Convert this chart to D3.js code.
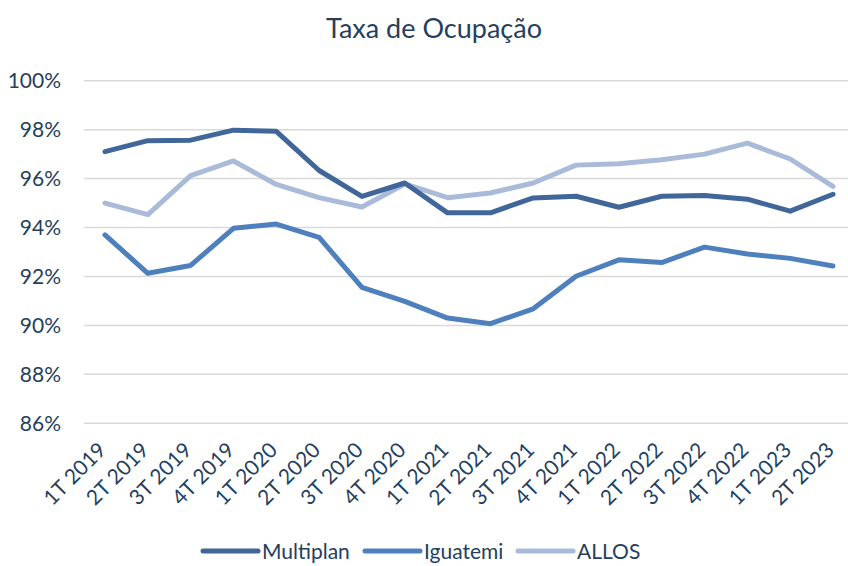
<!DOCTYPE html>
<html>
<head>
<meta charset="utf-8">
<script src="https://cdn.jsdelivr.net/npm/d3@7"></script>
<style>
  body { margin: 0; background: #fff; }
  text { font-family: Lato, "Open Sans", sans-serif; fill: #243f60; }
</style>
</head>
<body>
<div id="chart"></div>
<script>
// quarters on the x axis
var categories = ["1T 2019", "2T 2019", "3T 2019", "4T 2019", "1T 2020", "2T 2020", "3T 2020", "4T 2020",
                  "1T 2021", "2T 2021", "3T 2021", "4T 2021", "1T 2022", "2T 2022", "3T 2022", "4T 2022",
                  "1T 2023", "2T 2023"];

var multiplan = [97.1, 97.55, 97.57, 97.98, 97.93, 96.33, 95.27, 95.82, 94.6, 94.6, 95.21, 95.28, 94.83, 95.28, 95.31, 95.16, 94.67, 95.36];
var iguatemi  = [93.7, 92.13, 92.45, 93.97, 94.14, 93.6, 91.55, 90.98, 90.3, 90.07, 90.68, 92.01, 92.68, 92.57, 93.2, 92.92, 92.74, 92.43];
var allos     = [95.0, 94.53, 96.12, 96.72, 95.76, 95.22, 94.84, 95.78, 95.22, 95.41, 95.82, 96.55, 96.61, 96.77, 97.0, 97.45, 96.8, 95.68];

var yTicks = [86, 88, 90, 92, 94, 96, 98, 100];

var series = [
  { name: "Multiplan", values: multiplan, color: "#41679a" },
  { name: "Iguatemi",  values: iguatemi,  color: "#4e80bd" },
  { name: "ALLOS",     values: allos,     color: "#aabbd9" }
];

var width = 848, height = 566;

var svg = d3.select("#chart").append("svg")
    .attr("width", width)
    .attr("height", height);

var x = d3.scalePoint()
    .domain(categories)
    .range([105, 833]);

var y = d3.scaleLinear()
    .domain([86, 100])
    .range([423.3, 80.7]);

// title
svg.append("text")
    .attr("x", 434)
    .attr("y", 38)
    .attr("text-anchor", "middle")
    .style("font-size", "27px")
    .text("Taxa de Ocupação");

// gridlines
svg.append("g")
    .selectAll("line")
    .data(yTicks)
    .enter().append("line")
    .attr("x1", 84)
    .attr("x2", 848)
    .attr("y1", function(d) { return y(d); })
    .attr("y2", function(d) { return y(d); })
    .style("stroke", "#d9d9d9")
    .style("stroke-width", 1.5);

// y labels
svg.append("g")
    .selectAll("text")
    .data(yTicks)
    .enter().append("text")
    .attr("x", 61)
    .attr("y", function(d) { return y(d); })
    .attr("dy", "0.36em")
    .attr("text-anchor", "end")
    .style("font-size", "21px")
    .text(function(d) { return d + "%"; });

// x labels, rotated
svg.append("g")
    .selectAll("text")
    .data(categories)
    .enter().append("text")
    .attr("transform", function(d) { return "translate(" + (x(d) - 8) + ",441) rotate(-45)"; })
    .attr("text-anchor", "end")
    .attr("dy", "0.7em")
    .style("font-size", "21px")
    .text(function(d) { return d; });

var line = d3.line()
    .x(function(d, i) { return x(categories[i]); })
    .y(function(d) { return y(d); });

// draw lighter ones first so Multiplan sits on top
[series[2], series[1], series[0]].forEach(function(s) {
  svg.append("path")
      .datum(s.values)
      .attr("d", line)
      .style("fill", "none")
      .style("stroke", s.color)
      .style("stroke-width", 5)
      .style("stroke-linecap", "round")
      .style("stroke-linejoin", "round");
});

// legend
var legendX = [203, 365, 518];
var legend = svg.append("g")
    .selectAll("g")
    .data(series)
    .enter().append("g")
    .attr("transform", function(d, i) { return "translate(" + legendX[i] + ",551)"; });

legend.append("line")
    .attr("x1", 0)
    .attr("x2", 55)
    .style("stroke", function(d) { return d.color; })
    .style("stroke-width", 5)
    .style("stroke-linecap", "round");

legend.append("text")
    .attr("x", 59)
    .attr("dy", "0.36em")
    .style("font-size", "21px")
    .text(function(d) { return d.name; });
</script>
</body>
</html>
